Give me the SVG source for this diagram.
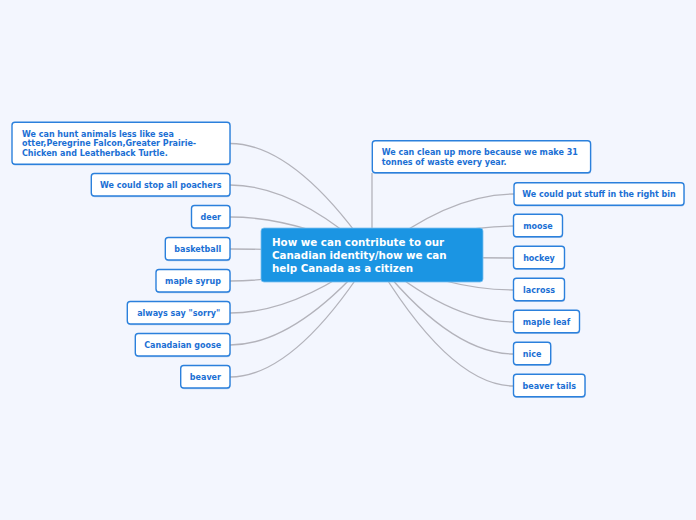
<svg xmlns="http://www.w3.org/2000/svg" width="696" height="520" viewBox="0 0 696 520">
<style>
.bg{fill:#f3f6fe}
.c{fill:none;stroke:#b3b3bb;stroke-width:1.3}
.n rect.b{fill:#ffffff;stroke:#2b80dc;stroke-width:1.4}
.n rect.s{fill:#6e9fd8;opacity:0.45}
.n text{font-family:"DejaVu Sans",Verdana,sans-serif;font-weight:bold;font-size:8px;fill:#1b6fd4}
.n text.m{text-anchor:middle}
#center rect{fill:#1b95e3;stroke:#7cc0f0;stroke-width:0.8}
#center text{font-family:"DejaVu Sans",Verdana,sans-serif;font-weight:bold;font-size:10.3px;fill:#ffffff}
</style>
<rect class="bg" x="0" y="0" width="696" height="520"/>
<g id="connectors">
<path class="c" d="M230,143.5 Q295,143.5 372,255"/>
<path class="c" d="M230,185 Q295,185 372,255"/>
<path class="c" d="M230,217 Q295,217 372,255"/>
<path class="c" d="M230,249 Q295,249 372,255"/>
<path class="c" d="M230,281 Q295,281 372,255"/>
<path class="c" d="M230,313 Q295,313 372,255"/>
<path class="c" d="M230,345 Q295,345 372,255"/>
<path class="c" d="M230,377 Q295,377 372,255"/>
<path class="c" d="M372,173 L372,240"/>
<path class="c" d="M514,194 Q449,194 372,255"/>
<path class="c" d="M514,226 Q449,226 372,255"/>
<path class="c" d="M514,258 Q449,258 372,255"/>
<path class="c" d="M514,290 Q449,290 372,255"/>
<path class="c" d="M514,322 Q449,322 372,255"/>
<path class="c" d="M514,354 Q449,354 372,255"/>
<path class="c" d="M514,386 Q449,386 372,255"/>
</g>
<g id="center">
<rect x="261" y="228" width="222" height="54" rx="3"/>
<text x="272" y="246">How we can contribute to our</text>
<text x="272" y="259">Canadian identity/how we can</text>
<text x="272" y="271.5">help Canada as a citizen</text>
</g>
<g id="n-hunt" class="n">
<rect class="s" x="12.5" y="123.5" width="218" height="42" rx="3"/>
<rect class="b" x="12" y="122.3" width="218" height="42" rx="3"/>
<text x="22" y="136.5">We can hunt animals less like sea</text>
<text x="22" y="146.2">otter,Peregrine Falcon,Greater Prairie-</text>
<text x="22" y="155.8">Chicken and Leatherback Turtle.</text>
</g>
<g id="n-poachers" class="n">
<rect class="s" x="91.8" y="174.7" width="138.5" height="22.5" rx="3"/>
<rect class="b" x="91.3" y="173.5" width="138.7" height="22.5" rx="3"/>
<text class="m" x="160.7" y="187.7">We could stop all poachers</text>
</g>
<g id="n-deer" class="n">
<rect class="s" x="192" y="206.7" width="38.5" height="22.5" rx="3"/>
<rect class="b" x="191.5" y="205.5" width="38.5" height="22.5" rx="3"/>
<text class="m" x="210.8" y="219.7">deer</text>
</g>
<g id="n-basketball" class="n">
<rect class="s" x="165.8" y="238.7" width="64.7" height="22.5" rx="3"/>
<rect class="b" x="165.3" y="237.5" width="64.7" height="22.5" rx="3"/>
<text class="m" x="197.7" y="251.7">basketball</text>
</g>
<g id="n-maplesyrup" class="n">
<rect class="s" x="156.5" y="270.7" width="74" height="22.5" rx="3"/>
<rect class="b" x="156" y="269.5" width="74" height="22.5" rx="3"/>
<text class="m" x="193" y="283.7">maple syrup</text>
</g>
<g id="n-sorry" class="n">
<rect class="s" x="127.8" y="302.7" width="102.7" height="22.5" rx="3"/>
<rect class="b" x="127.3" y="301.5" width="102.7" height="22.5" rx="3"/>
<text class="m" x="178.7" y="315.7">always say "sorry"</text>
</g>
<g id="n-goose" class="n">
<rect class="s" x="135.8" y="334.7" width="94.7" height="22.5" rx="3"/>
<rect class="b" x="135.3" y="333.5" width="94.7" height="22.5" rx="3"/>
<text class="m" x="182.7" y="347.7">Canadaian goose</text>
</g>
<g id="n-beaver" class="n">
<rect class="s" x="181.2" y="366.7" width="49.3" height="22.5" rx="3"/>
<rect class="b" x="180.7" y="365.5" width="49.3" height="22.5" rx="3"/>
<text class="m" x="205.4" y="379.7">beaver</text>
</g>
<g id="n-cleanup" class="n">
<rect class="s" x="372.8" y="141.9" width="218.3" height="32" rx="3"/>
<rect class="b" x="372.3" y="140.7" width="218.3" height="32" rx="3"/>
<text x="381.7" y="155">We can clean up more because we make 31</text>
<text x="381.7" y="164.5">tonnes of waste every year.</text>
</g>
<g id="n-rightbin" class="n">
<rect class="s" x="514.5" y="183.9" width="170" height="22.5" rx="3"/>
<rect class="b" x="514" y="182.7" width="170" height="22.5" rx="3"/>
<text class="m" x="599" y="196.9">We could put stuff in the right bin</text>
</g>
<g id="n-moose" class="n">
<rect class="s" x="514" y="215.5" width="49" height="22.5" rx="3"/>
<rect class="b" x="513.5" y="214.3" width="49" height="22.5" rx="3"/>
<text class="m" x="538" y="228.5">moose</text>
</g>
<g id="n-hockey" class="n">
<rect class="s" x="514" y="247.5" width="51" height="22.5" rx="3"/>
<rect class="b" x="513.5" y="246.3" width="51" height="22.5" rx="3"/>
<text class="m" x="539" y="260.5">hockey</text>
</g>
<g id="n-lacross" class="n">
<rect class="s" x="514" y="279.5" width="51" height="22.5" rx="3"/>
<rect class="b" x="513.5" y="278.3" width="51" height="22.5" rx="3"/>
<text class="m" x="539" y="292.5">lacross</text>
</g>
<g id="n-mapleleaf" class="n">
<rect class="s" x="514" y="311.5" width="66" height="22.5" rx="3"/>
<rect class="b" x="513.5" y="310.3" width="66" height="22.5" rx="3"/>
<text class="m" x="546.5" y="324.5">maple leaf</text>
</g>
<g id="n-nice" class="n">
<rect class="s" x="514" y="343.5" width="37.2" height="22.5" rx="3"/>
<rect class="b" x="513.5" y="342.3" width="37.2" height="22.5" rx="3"/>
<text class="m" x="532.1" y="356.5">nice</text>
</g>
<g id="n-beavertails" class="n">
<rect class="s" x="514" y="375.5" width="71.5" height="22.5" rx="3"/>
<rect class="b" x="513.5" y="374.3" width="71.5" height="22.5" rx="3"/>
<text class="m" x="549.2" y="388.5">beaver tails</text>
</g>
</svg>
